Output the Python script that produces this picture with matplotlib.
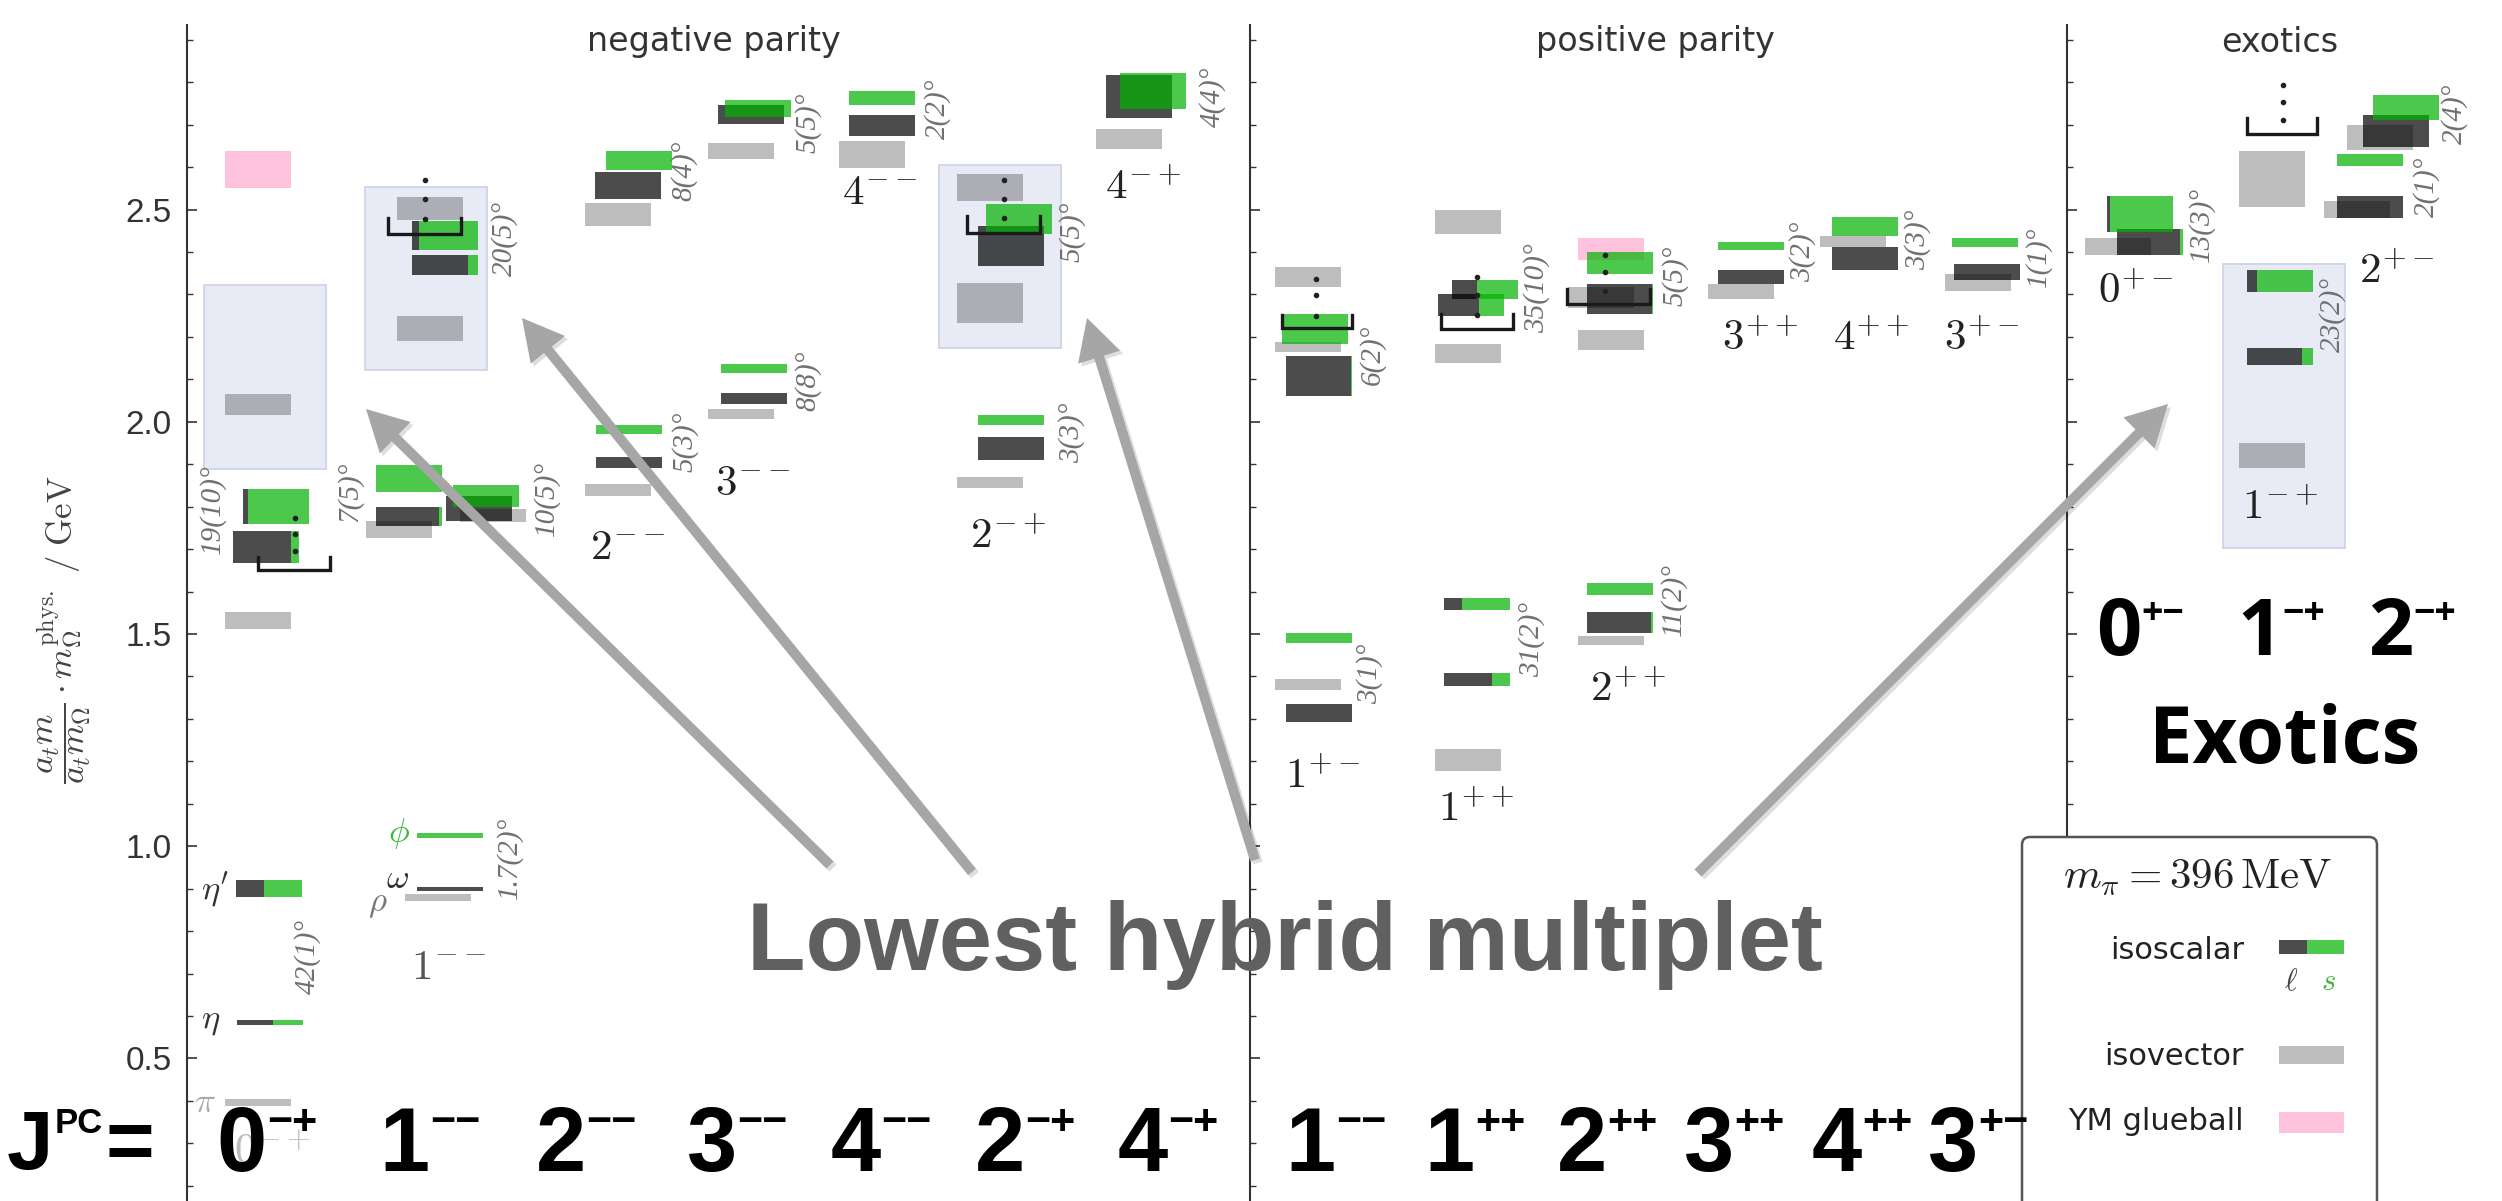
import matplotlib
matplotlib.use("Agg")
import matplotlib.pyplot as plt
from matplotlib.patches import Rectangle, FancyBboxPatch, FancyArrowPatch, ArrowStyle
from matplotlib.ticker import MultipleLocator

plt.rcParams['mathtext.fontset'] = 'cm'
plt.rcParams['font.family'] = ['Liberation Sans', 'DejaVu Sans']

W, H = 2502, 1201          # output size in px at dpi 100
TOP = 25                   # px where the axis lines start
M_LO, M_HI = 0.164, 2.935  # GeV range covered by the axis lines

# J^PC columns of the three panels and where each column starts (px)
neg_cols = ['0-+', '1--', '2--', '3--', '4--', '2-+', '4-+']
neg_x = [225, 397, 585, 708, 839, 957, 1096]
pos_cols = ['1+-', '1++', '2++', '3++', '4++', '3+-']
pos_x = [1275, 1435, 1578, 1708, 1820, 1945]
exo_cols = ['0+-', '1-+', '2+-']
exo_x = [2085, 2239, 2347]

# isovector states: column, lower / upper edge (GeV), shift in px
isovector = [
    ('0-+', 0.389, 0.405, 0), ('0-+', 1.512, 1.552, 0), ('0-+', 2.015, 2.065, 0),
    ('1--', 0.872, 0.887, 8), ('1--', 1.726, 1.767, -31), ('1--', 1.763, 1.795, 63),
    ('1--', 2.191, 2.249, 0), ('1--', 2.475, 2.530, 0),
    ('2--', 1.826, 1.853, 0), ('2--', 2.461, 2.515, 0),
    ('3--', 2.007, 2.030, 0), ('3--', 2.619, 2.656, 0),
    ('4--', 2.598, 2.662, 0),
    ('2-+', 1.844, 1.871, 0), ('2-+', 2.232, 2.327, 0), ('2-+', 2.520, 2.584, 0),
    ('4-+', 2.643, 2.690, 0),
    ('1+-', 1.368, 1.394, 0), ('1+-', 2.165, 2.187, 0), ('1+-', 2.317, 2.365, 0),
    ('1++', 1.178, 1.229, 0), ('1++', 2.139, 2.184, 0), ('1++', 2.442, 2.500, 0),
    ('2++', 1.474, 1.495, 0), ('2++', 2.169, 2.216, 0), ('2++', 2.268, 2.318, -10),
    ('3++', 2.290, 2.325, 0),
    ('4++', 2.413, 2.439, 0),
    ('3+-', 2.309, 2.349, 0),
    ('0+-', 2.393, 2.434, 0),
    ('1-+', 1.891, 1.949, 0), ('1-+', 2.505, 2.638, 0),
    ('2+-', 2.480, 2.520, -23), ('2+-', 2.641, 2.699, 0),
]

# isoscalar states: column, lower / upper edge, strange fraction, shift in px
isoscalar = [
    ('0-+', 0.579, 0.591, 0.46, 12), ('0-+', 0.880, 0.920, 0.58, 11),
    ('0-+', 1.668, 1.742, 0.12, 8), ('0-+', 1.760, 1.841, 0.92, 18),
    ('1--', 0.895, 0.905, 0.0, 20), ('1--', 1.020, 1.030, 1.0, 20),
    ('1--', 1.754, 1.799, 0.05, -21), ('1--', 1.835, 1.898, 1.0, -21),
    ('1--', 1.767, 1.826, 0.0, 49), ('1--', 1.799, 1.851, 1.0, 56),
    ('1--', 2.345, 2.392, 0.15, 15), ('1--', 2.406, 2.473, 0.90, 15),
    ('2--', 1.890, 1.917, 0.0, 11), ('2--', 1.971, 1.993, 1.0, 11),
    ('2--', 2.525, 2.589, 0.0, 10), ('2--', 2.593, 2.638, 1.0, 21),
    ('3--', 2.042, 2.068, 0.0, 13), ('3--', 2.115, 2.136, 1.0, 13),
    ('3--', 2.701, 2.746, 0.0, 10), ('3--', 2.718, 2.758, 1.0, 17),
    ('4--', 2.674, 2.723, 0.0, 10), ('4--', 2.746, 2.779, 1.0, 10),
    ('2-+', 1.910, 1.965, 0.0, 21), ('2-+', 1.992, 2.016, 1.0, 21),
    ('2-+', 2.367, 2.461, 0.0, 21), ('2-+', 2.442, 2.514, 1.0, 29),
    ('4-+', 2.715, 2.818, 0.0, 10), ('4-+', 2.737, 2.823, 1.0, 24),
    ('1+-', 1.293, 1.335, 0.0, 11), ('1+-', 1.479, 1.502, 1.0, 11),
    ('1+-', 2.060, 2.155, 0.02, 11), ('1+-', 2.183, 2.253, 1.0, 7),
    ('1++', 1.377, 1.409, 0.28, 9), ('1++', 1.556, 1.585, 0.73, 9),
    ('1++', 2.250, 2.300, 0.38, 3), ('1++', 2.290, 2.334, 0.62, 17),
    ('2++', 1.503, 1.553, 0.03, 9), ('2++', 1.592, 1.621, 1.0, 9),
    ('2++', 2.253, 2.325, 0.02, 9), ('2++', 2.349, 2.399, 1.0, 9),
    ('3++', 2.325, 2.358, 0.0, 10), ('3++', 2.406, 2.424, 1.0, 10),
    ('4++', 2.358, 2.413, 0.0, 12), ('4++', 2.439, 2.482, 1.0, 12),
    ('3+-', 2.334, 2.372, 0.0, 9), ('3+-', 2.412, 2.434, 1.0, 7),
    ('0+-', 2.394, 2.455, 0.05, 32), ('0+-', 2.447, 2.531, 0.95, 22),
    ('1-+', 2.134, 2.174, 0.17, 8), ('1-+', 2.306, 2.358, 0.85, 8),
    ('2+-', 2.480, 2.531, 0.0, -10), ('2+-', 2.603, 2.631, 1.0, -10),
    ('2+-', 2.647, 2.723, 0.0, 16), ('2+-', 2.712, 2.771, 1.0, 26),
]

glueball = [('0-+', 2.552, 2.638, 0), ('2++', 2.382, 2.434, 0)]

# lowest hybrid multiplet regions: column, lower / upper edge, shift
hybrid = [('0-+', 1.889, 2.322, -21), ('1--', 2.122, 2.553, -32),
          ('2-+', 2.174, 2.606, -18), ('1-+', 1.703, 2.373, -16)]

# brackets: column, level, top of the ends, shift, width
brackets = [('0-+', 1.651, 1.682, 33, 72), ('1--', 2.442, 2.480, -9, 73),
            ('2-+', 2.444, 2.485, 10, 73), ('1+-', 2.221, 2.252, 7, 70),
            ('1++', 2.219, 2.254, 6, 72), ('2++', 2.278, 2.313, -11, 83),
            ('1-+', 2.678, 2.716, 8, 70)]
dots = [('0-+', 70, [1.696, 1.736, 1.773]), ('1--', 28, [2.478, 2.525, 2.570]),
        ('2-+', 47, [2.481, 2.525, 2.570]), ('1+-', 41, [2.249, 2.299, 2.336]),
        ('1++', 42, [2.252, 2.299, 2.341]), ('2++', 27, [2.308, 2.352, 2.394]),
        ('1-+', 44, [2.710, 2.754, 2.794])]

# mixing angles: column, text, mass of the label centre, shift
angles = [('0-+', '19(10)°', 1.795, -13), ('0-+', '42(1)°', 0.741, 82),
          ('1--', '7(5)°', 1.835, -47), ('1--', '10(5)°', 1.820, 149),
          ('1--', '20(5)°', 2.431, 108), ('1--', '1.7(2)°', 0.972, 112),
          ('2--', '8(4)°', 2.591, 99), ('2--', '5(3)°', 1.953, 100),
          ('3--', '5(5)°', 2.704, 100), ('3--', '8(8)°', 2.096, 100),
          ('4--', '2(2)°', 2.737, 99), ('2-+', '5(5)°', 2.447, 115),
          ('2-+', '3(3)°', 1.974, 115), ('4-+', '4(4)°', 2.765, 116),
          ('1+-', '6(2)°', 2.157, 97), ('1+-', '3(1)°', 1.406, 95),
          ('1++', '35(10)°', 2.315, 102), ('1++', '31(2)°', 1.486, 97),
          ('2++', '5(5)°', 2.344, 97), ('2++', '11(2)°', 1.580, 95),
          ('3++', '3(2)°', 2.400, 95), ('4++', '3(3)°', 2.428, 98),
          ('3+-', '1(1)°', 2.388, 93), ('0+-', '13(3)°', 2.464, 116),
          ('1-+', '23(2)°', 2.252, 94), ('2+-', '2(1)°', 2.553, 80),
          ('2+-', '2(4)°', 2.725, 108)]

# J^PC names inside the plot: column, mass, shift
col_labels = [('0-+', 0.277, 47), ('1--', 0.713, 52), ('2--', 1.703, 43),
              ('3--', 1.854, 45), ('4--', 2.539, 41), ('2-+', 1.727, 51),
              ('4-+', 2.551, 47), ('1+-', 1.161, 48), ('1++', 1.085, 41),
              ('2++', 1.368, 50), ('3++', 2.193, 52), ('4++', 2.193, 51),
              ('3+-', 2.193, 37), ('0+-', 2.304, 51), ('1-+', 1.797, 41),
              ('2+-', 2.353, 50)]

particles = [('0-+', r'$\pi$', 0.397, -20, '#aaaaaa'), ('0-+', r'$\eta$', 0.590, -14, '#333333'),
             ('0-+', r"$\eta'$", 0.897, -10, '#333333'), ('1--', r'$\phi$', 1.029, 2, '#3cb83c'),
             ('1--', r'$\omega$', 0.925, 1, '#333333'), ('1--', r'$\rho$', 0.866, -19, '#777777')]

# overlay
row_labels = ['0-+', '1--', '2--', '3--', '4--', '2-+', '4-+', '1--', '1++', '2++', '3++', '4++', '3+-']
row_x = [267, 430, 586, 737, 881, 1025, 1168, 1336, 1475, 1607, 1734, 1862, 1978]
exo_labels = ['0+-', '1-+', '2-+']
exo_lx = [2140, 2281, 2412]
arrows = [((830, 865), (366, 409)), ((972, 872), (522, 318)),
          ((1255, 860), (1087, 318)), ((1698, 873), (2168, 404))]

BW = 66
GREEN = (0, 0.70, 0, 0.7)
DARK = (0, 0, 0, 0.7)
GRAY = (0, 0, 0, 0.26)
PINK = '#ffc2dc'


def F(x, y):
    return x / 100.0, (H - y) / 100.0


fig = plt.figure(figsize=(W / 100.0, H / 100.0), dpi=100)
fig.patch.set_facecolor('white')
IN = fig.dpi_scale_trans

panels = [('negative parity', 187, 1250, 714, neg_cols, neg_x),
          ('positive parity', 1250, 2067, 1655, pos_cols, pos_x),
          ('exotics', 2067, 2502, 2280, exo_cols, exo_x)]
col_ax = {}
col_x = {}
for title, x0, x1, xt, cols, xs in panels:
    ax = fig.add_axes([x0 / W, 0, (x1 - x0) / W, (H - TOP) / H])
    ax.set_xlim(x0, x1)
    ax.set_ylim(M_LO, M_HI)
    ax.patch.set_alpha(0)
    for s in ['top', 'right', 'bottom']:
        ax.spines[s].set_visible(False)
    ax.spines['left'].set_color('#333333')
    ax.spines['left'].set_linewidth(1.5)
    ax.xaxis.set_visible(False)
    ax.yaxis.set_major_locator(MultipleLocator(0.5))
    ax.yaxis.set_minor_locator(MultipleLocator(0.1))
    ax.tick_params(axis='y', which='major', direction='in', length=7, width=1.2,
                   color='#333333', labelsize=24, labelcolor='#333333', pad=11)
    ax.tick_params(axis='y', which='minor', direction='in', length=4, width=1.0, color='#333333')
    if x0 != 187:
        ax.tick_params(axis='y', which='both', labelleft=False)
    fig.text(*F(xt, 42), title, transform=IN, ha='center', va='center',
             fontsize=24, color='#333333', family='DejaVu Sans')
    for c, x in zip(cols, xs):
        col_ax[c] = ax
        col_x[c] = x

for c, lo, hi, dx in hybrid:
    col_ax[c].add_patch(Rectangle((col_x[c] + dx, lo), 122, hi - lo, facecolor='#e8eaf5',
                                  edgecolor='#cdd1e6', lw=1.2, zorder=1))
for c, lo, hi, dx in glueball:
    col_ax[c].add_patch(Rectangle((col_x[c] + dx, lo), BW, hi - lo, facecolor=PINK,
                                  edgecolor='none', zorder=1.5))
for c, lo, hi, dx in isovector:
    col_ax[c].add_patch(Rectangle((col_x[c] + dx, lo), BW, hi - lo, facecolor=GRAY,
                                  edgecolor='none', zorder=2))
# light part first, then strange part on top
for c, lo, hi, fs, dx in isoscalar:
    wl = BW * (1 - fs)
    if wl > 0:
        col_ax[c].add_patch(Rectangle((col_x[c] + dx, lo), wl, hi - lo, facecolor=DARK,
                                      edgecolor='none', zorder=3))
for c, lo, hi, fs, dx in isoscalar:
    if fs > 0:
        x = col_x[c] + dx + BW * (1 - fs)
        col_ax[c].add_patch(Rectangle((x, lo), BW * fs, hi - lo, facecolor=GREEN,
                                      edgecolor='none', zorder=4))

for c, lvl, top, dx, w in brackets:
    x = col_x[c] + dx
    col_ax[c].plot([x, x, x + w, x + w], [top, lvl, lvl, top], color='#1a1a1a', lw=2.4,
                   solid_joinstyle='miter', zorder=5)
for c, dx, ms in dots:
    col_ax[c].plot([col_x[c] + dx] * len(ms), ms, 'o', ms=3, color='#222222', zorder=6)

for c, txt, m, dx in angles:
    col_ax[c].text(col_x[c] + dx, m, txt, rotation=90, ha='center', va='center',
                   fontsize=21, color='#707070', family='Liberation Serif', style='italic')
for c, m, dx in col_labels:
    lab = '$%s^{%s}$' % (c[0], c[1:])
    clr = '#bbbbbb' if c == '0-+' else ('#555555' if c == '1--' else '#222222')
    col_ax[c].text(col_x[c] + dx, m, lab, ha='center', va='center', fontsize=31, color=clr)
for c, txt, m, dx, clr in particles:
    col_ax[c].text(col_x[c] + dx, m, txt, ha='center', va='center', fontsize=25, color=clr)

fig.text(*F(64, 630), r'$\dfrac{a_t m}{a_t m_\Omega} \cdot m_\Omega^{\rm phys.}\ /\ {\rm GeV}$',
         transform=IN, rotation=90, ha='center', va='center', fontsize=25, color='#444444')

# legend
fig.add_artist(FancyBboxPatch(F(2022, 1230), (2377 - 2022) / 100.0, (1230 - 837) / 100.0,
                              boxstyle='round,pad=0,rounding_size=0.08', transform=IN,
                              facecolor='white', edgecolor='#555555', lw=1.8, zorder=8))
fig.text(*F(2198, 877), r'$m_\pi = 396\,\mathrm{MeV}$', transform=IN, ha='center', va='center',
         fontsize=31, color='#222222', zorder=9)
for txt, yb in [('isoscalar', 959), ('isovector', 1065), ('YM glueball', 1130)]:
    fig.text(*F(2244, yb), txt, transform=IN, ha='right', va='baseline', fontsize=22,
             color='#222222', family='DejaVu Sans', zorder=9)
for x0, x1, y0, y1, fc in [(2279, 2307, 940, 954, DARK), (2307, 2344, 940, 954, GREEN),
                           (2279, 2344, 1046, 1064, GRAY), (2279, 2344, 1112, 1133, PINK)]:
    fig.add_artist(Rectangle(F(x0, y1), (x1 - x0) / 100.0, (y1 - y0) / 100.0, transform=IN,
                             facecolor=fc, edgecolor='none', zorder=9))
fig.text(*F(2291, 982), r'$\ell$', transform=IN, ha='center', va='center', fontsize=22,
         color='#444444', zorder=9)
fig.text(*F(2328, 982), r'$s$', transform=IN, ha='center', va='center', fontsize=22,
         color='#3cb83c', zorder=9)

# overlay: arrows and big labels
for (xa, ya), (xb, yb) in arrows:
    for off, fc in [(3, (0, 0, 0, 0.13)), (0, '#a6a6a6')]:
        fig.add_artist(FancyArrowPatch(F(xa + off, ya + off), F(xb + off, yb + off), transform=IN,
                                       arrowstyle=ArrowStyle('simple', head_length=29.5,
                                                             head_width=31.7, tail_width=7.2),
                                       mutation_scale=1, shrinkA=0, shrinkB=0,
                                       facecolor=fc, edgecolor='none', zorder=10))

fig.text(*F(747, 970), 'Lowest hybrid multiplet', transform=IN, ha='left', va='baseline',
         fontsize=69, fontweight='bold', color='#606060', family=['Liberation Sans', 'DejaVu Sans'],
         zorder=11)

renderer = fig.canvas.get_renderer()
NARROW = ['Liberation Sans Narrow', 'Liberation Sans', 'DejaVu Sans']
OPEN = ['Open Sans', 'DejaVu Sans']


def big_text(x, base, s, size, fam):
    t = fig.text(*F(x, base), s, transform=IN, ha='left', va='baseline', fontsize=size,
                 fontweight='bold', family=fam, color='black', zorder=12)
    return x + t.get_window_extent(renderer).width


def big_label(xc, base, s, size, sup_size, lift, fam):
    t1 = fig.text(0, 0, s[0], transform=IN, ha='left', va='baseline', fontsize=size,
                  fontweight='bold', family=fam, color='black', zorder=12)
    t2 = fig.text(0, 0, s[1:].replace('-', '\u2212'), transform=IN, ha='left', va='baseline',
                  fontsize=sup_size, fontweight='bold', family=fam, color='black', zorder=12)
    w1 = t1.get_window_extent(renderer).width
    w2 = t2.get_window_extent(renderer).width
    x0 = xc - (w1 + w2) / 2.0
    t1.set_position(F(x0, base))
    t2.set_position(F(x0 + w1, base - lift))


for s, xc in zip(row_labels, row_x):
    big_label(xc, 1171, s, 65, 31, 37, NARROW)

# "J^PC =" in front of the bottom row
xj = big_text(7, 1169, 'J', 60, NARROW)
xj = big_text(xj + 1, 1133, 'PC', 25, ['Liberation Sans', 'DejaVu Sans'])
big_text(xj + 3, 1169, '=', 60, NARROW)

for s, xc in zip(exo_labels, exo_lx):
    big_label(xc, 655, s, 57, 27, 31, OPEN)
fig.text(*F(2285, 763), 'Exotics', transform=IN, ha='center', va='baseline', fontsize=56,
         fontweight='bold', family=OPEN, color='black', zorder=12)

fig.savefig('out.png', dpi=100, facecolor='white')
